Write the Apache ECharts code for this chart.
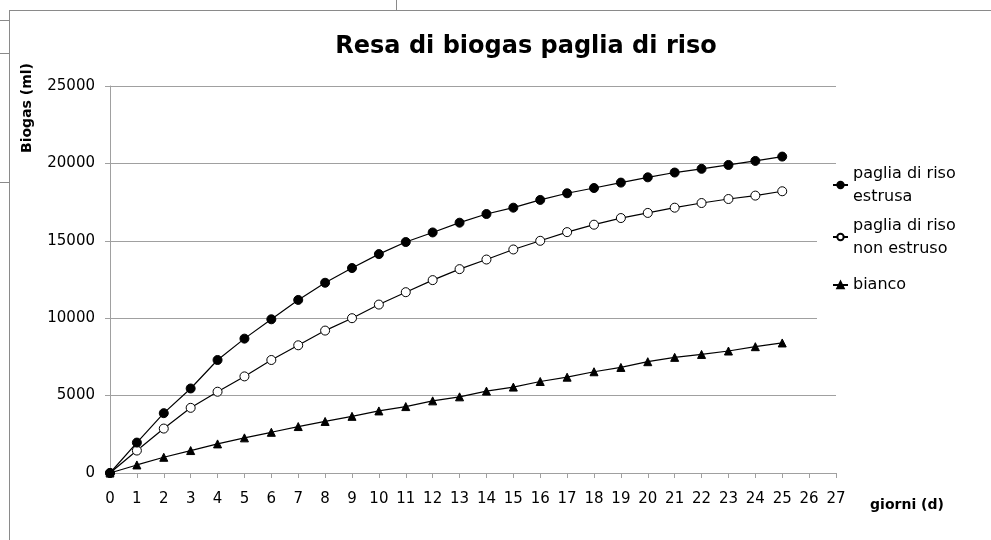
<!DOCTYPE html>
<html>
<head>
<meta charset="utf-8">
<script src="https://cdn.jsdelivr.net/npm/echarts@6/dist/echarts.min.js"></script>
<style>
	html,body{margin:0;padding:0;background:#fff;}
	#main{width:991px;height:540px;}
</style>
</head>
<body>
<div id="main"></div>
<script>
var giorni = [0,1,2,3,4,5,6,7,8,9,10,11,12,13,14,15,16,17,18,19,20,21,22,23,24,25];
var estrusa = [0,1965,3865,5460,7300,8680,9930,11180,12290,13240,14140,14920,15540,16170,16730,17140,17640,18070,18410,18760,19100,19410,19650,19900,20160,20440];
var nonEstruso = [0,1450,2870,4210,5250,6240,7300,8250,9200,10000,10880,11680,12460,13170,13790,14440,15000,15560,16040,16470,16800,17140,17440,17700,17920,18200];
var bianco = [0,520,1015,1450,1880,2270,2630,3000,3330,3660,4010,4290,4660,4920,5290,5550,5910,6190,6540,6820,7190,7470,7660,7880,8160,8400];
var serieNomi = ['paglia di riso estrusa','paglia di riso non estruso','bianco'];

function coppie(vals){
	var out = [];
	for(var i=0;i<giorni.length;i++){
		out.push([giorni[i], vals[i]]);
	}
	return out;
}

var FONT = 'DejaVu Sans';
var GRIGIO = '#a0a0a0';

var option = {
	animation:false,
	backgroundColor:'#fff',
	grid:{left:110, right:155, top:86, bottom:67, containLabel:false},
	xAxis:{
		type:'value', min:0, max:27, interval:1,
		axisLine:{lineStyle:{color:GRIGIO}},
		axisTick:{show:true, length:5, lineStyle:{color:GRIGIO}},
		axisLabel:{color:'#000', fontFamily:FONT, fontSize:15, margin:19},
		splitLine:{show:false}
	},
	yAxis:{
		type:'value', min:0, max:25000, interval:5000,
		axisLine:{show:true, lineStyle:{color:GRIGIO}},
		axisTick:{show:true, length:5, lineStyle:{color:GRIGIO}},
		axisLabel:{color:'#000', fontFamily:FONT, fontSize:15, margin:15,
			formatter:function(v){ return String(v); }},
		splitLine:{show:true, lineStyle:{color:GRIGIO, width:1}}
	},
	legend:{
		orient:'vertical', left:832, top:150.5, padding:0,
		itemGap:-17, itemWidth:15, itemHeight:8,
		formatter:function(name){ return name.replace('riso ','riso\n'); },
		textStyle:{color:'#000', fontFamily:FONT, fontSize:16, lineHeight:23},
		data:[
			{name:serieNomi[0], textStyle:{padding:[23,0,0,0]}},
			{name:serieNomi[1], textStyle:{padding:[23,0,0,0]}},
			{name:serieNomi[2], textStyle:{padding:[19,0,19,0]}}
		]
	},
	graphic:[
		{type:'rect', z:1, shape:{x:817, y:170, width:174, height:155}, style:{fill:'#fff'}},
		{type:'line', shape:{x1:9, y1:10.5, x2:991, y2:10.5}, style:{stroke:'#8a8a8a', lineWidth:1}},
		{type:'line', shape:{x1:9.5, y1:10, x2:9.5, y2:540}, style:{stroke:'#8a8a8a', lineWidth:1}},
		{type:'line', shape:{x1:0, y1:20.5, x2:9, y2:20.5}, style:{stroke:'#8a8a8a', lineWidth:1}},
		{type:'line', shape:{x1:0, y1:53.5, x2:9, y2:53.5}, style:{stroke:'#8a8a8a', lineWidth:1}},
		{type:'line', shape:{x1:0, y1:182.5, x2:9, y2:182.5}, style:{stroke:'#8a8a8a', lineWidth:1}},
		{type:'line', shape:{x1:396.5, y1:0, x2:396.5, y2:10}, style:{stroke:'#8a8a8a', lineWidth:1}},
		{type:'text', x:526, y:47, style:{text:'Resa di biogas paglia di riso', fill:'#000', font:'bold 24px "DejaVu Sans"', align:'center', verticalAlign:'middle'}},
		{type:'text', x:27, y:108, rotation:Math.PI/2, style:{text:'Biogas (ml)', fill:'#000', font:'bold 14px "DejaVu Sans"', align:'center', verticalAlign:'middle'}},
		{type:'text', x:907, y:505, style:{text:'giorni (d)', fill:'#000', font:'bold 14px "DejaVu Sans"', align:'center', verticalAlign:'middle'}}
	],
	series:[
		{
			name:serieNomi[0], type:'line', z:4,
			data:coppie(estrusa),
			symbol:'circle', symbolSize:9,
			lineStyle:{color:'#000', width:1.2},
			itemStyle:{color:'#000', borderColor:'#000', borderWidth:1}
		},
		{
			name:serieNomi[1], type:'line', z:3,
			data:coppie(nonEstruso),
			symbol:'circle', symbolSize:9,
			lineStyle:{color:'#000', width:1.2},
			itemStyle:{color:'#fff', borderColor:'#000', borderWidth:1}
		},
		{
			name:serieNomi[2], type:'line', z:2,
			data:coppie(bianco),
			symbol:'triangle', symbolSize:8,
			lineStyle:{color:'#000', width:1.2},
			itemStyle:{color:'#000', borderColor:'#000', borderWidth:1}
		}
	]
};

var chart = echarts.init(document.getElementById('main'));
chart.setOption(option);
</script>
</body>
</html>
